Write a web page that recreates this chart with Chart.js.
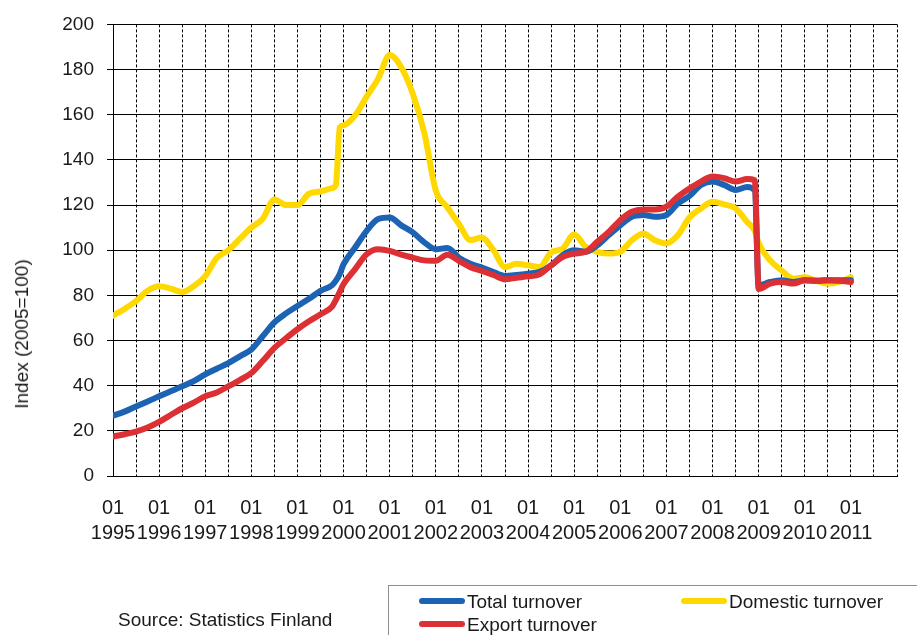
<!DOCTYPE html>
<html>
<head>
<meta charset="utf-8">
<script src="https://cdn.jsdelivr.net/npm/chart.js@4/dist/chart.umd.min.js"></script>
<style>
    body { margin: 0; background: #fff; }
    #wrap { position: relative; width: 917px; height: 635px; font-family: "Liberation Sans", Arial, sans-serif; color: #1a1a1a; }
    #chart { position: absolute; left: 0; top: 0; }
    .yTitle { position: absolute; left: 22px; top: 334px; font-size: 19px; white-space: nowrap; transform: translate(-50%, -50%) rotate(-90deg); }
    .source { position: absolute; left: 118px; top: 609px; font-size: 19px; }
    .legendBox { position: absolute; left: 388px; top: 585px; width: 560px; height: 70px; border: 1px solid #8f8f8f; }
    .legItem { position: absolute; font-size: 19px; line-height: 22px; white-space: nowrap; }
    .legItem span.sw { display: inline-block; width: 46px; height: 6px; border-radius: 3px; vertical-align: middle; margin-right: 2px; position: relative; top: -2px; }
</style>
</head>
<body>
<div id="wrap">
    <canvas id="chart" width="917" height="635"></canvas>
    <div class="yTitle">Index (2005=100)</div>
    <div class="source">Source: Statistics Finland</div>
    <div class="legendBox" id="legend"></div>
</div>
<script>
// Monthly index values (2005=100)
const dates = [
    '1995-01','1995-04','1995-07','1995-10','1996-01','1996-04','1996-07','1996-10',
    '1997-01','1997-04','1997-07','1997-10','1998-01','1998-04','1998-07','1998-10',
    '1999-01','1999-04','1999-07','1999-10','1999-11','1999-12','2000-01','2000-04',
    '2000-07','2000-10','2001-01','2001-04','2001-07','2001-10','2002-01','2002-04',
    '2002-07','2002-10','2003-01','2003-04','2003-07','2003-10','2004-01','2004-04',
    '2004-07','2004-10','2005-01','2005-04','2005-07','2005-10','2006-01','2006-04',
    '2006-07','2006-10','2007-01','2007-04','2007-07','2007-10','2008-01','2008-04',
    '2008-07','2008-10','2008-12','2009-01','2009-04','2009-07','2009-10','2010-01',
    '2010-04','2010-07','2010-10','2011-01'
];
const totalTurnover = [
    26.7, 28.5, 30.8, 33, 35.3, 37.5, 39.7, 42,
    45, 47.5, 50, 53, 56, 62, 68, 72,
    75.3, 78.5, 82, 84.5, 86.5, 89.5, 93.8, 101.2,
    108.6, 113.8, 114.5, 111, 107.9, 103.5, 100.4, 101,
    96.7, 94, 92.3, 90.3, 88.6, 89, 89.6, 90.4,
    93.3, 97.8, 100, 99.3, 102.2, 106.7, 111, 114.8,
    115.6, 114.8, 115.6, 120.7, 124, 128.9, 130.4, 128.9,
    126.7, 128, 126.5, 84.4, 85.9, 86.7, 85.9, 86.7,
    86.5, 86.7, 86.7, 86.7
];
const domesticTurnover = [
    71, 74, 77.5, 82, 84, 83, 81.5, 84,
    88.5, 96.5, 100, 105, 110, 114, 122.5, 120,
    120, 125, 126, 127.5, 129, 154.5, 155.3, 159.7,
    168, 176, 186.4, 181, 169.3, 152, 126.4, 119,
    111.6, 104.5, 105.6, 100, 92.5, 94, 93.3, 92.6,
    99, 100.7, 107, 101.5, 99.3, 98.5, 99.3, 104.4,
    107.4, 104.4, 103, 106.7, 114.5, 118.5, 121.5, 120.3,
    118.5, 112.5, 108.5, 103, 95.5, 91, 87.4, 88,
    86.5, 85.2, 86, 88
];
const exportTurnover = [
    17.5, 18.5, 19.7, 21.5, 24, 27, 30, 32.5,
    35.3, 37, 39.7, 42.5, 45.6, 51, 56.7, 61,
    65, 68.5, 71.6, 75, 78, 81.5, 85, 91.6,
    98.2, 100.4, 99.7, 98, 96.7, 95.5, 95.3, 98,
    95.3, 92.5, 90.8, 89, 87.1, 87.8, 88.4, 89.3,
    93.3, 97, 98.5, 99.3, 103.7, 108.1, 113.3, 117,
    118, 118, 119.3, 123.7, 127.3, 130.4, 132.6, 131.9,
    130.4, 131.5, 131, 82.9, 85.2, 85.9, 85.2, 86.7,
    86.5, 86.7, 86.5, 85.9
];
const years = ['1995','1996','1997','1998','1999','2000','2001','2002','2003',
    '2004','2005','2006','2007','2008','2009','2010','2011'];
const tickMonth = '01';
const seriesNames = ['Total turnover', 'Domestic turnover', 'Export turnover'];
const seriesColors = ['#1d63b3', '#ffd800', '#dc3035'];

const firstYear = parseInt(years[0]);
function monthIndex(d) {
    const p = d.split('-');
    return (parseInt(p[0]) - firstYear) * 12 + parseInt(p[1]) - 1;
}
function points(values) {
    return dates.map(function(d, i){ return {x: monthIndex(d), y: values[i]}; });
}

const font = { family: '"Liberation Sans", Arial, sans-serif', size: 19 };
const xFont = { family: '"Liberation Sans", Arial, sans-serif', size: 20, lineHeight: 1.25 };
const allSeries = [totalTurnover, domesticTurnover, exportTurnover];
const drawOrder = [1, 2, 0]; // export on top, domestic at the bottom

const datasets = allSeries.map(function(vals, i){
    return {
        label: seriesNames[i],
        data: points(vals),
        borderColor: seriesColors[i],
        backgroundColor: seriesColors[i],
        borderWidth: 6,
        pointRadius: 0,
        borderCapStyle: 'round',
        borderJoinStyle: 'round',
        cubicInterpolationMode: 'monotone',
        order: drawOrder[i]
    };
});

new Chart(document.getElementById('chart'), {
    type: 'line',
    data: { datasets: datasets },
    options: {
        responsive: false,
        animation: false,
        devicePixelRatio: 1,
        layout: { padding: { top: 24, right: 19, left: 0, bottom: 0 } },
        plugins: { legend: { display: false }, tooltip: { enabled: false } },
        scales: {
            x: {
                type: 'linear',
                min: 0,
                max: years.length * 12,
                afterFit: function(scale){ scale.height = 159; },
                grid: { color: '#000', lineWidth: 1, drawTicks: false },
                border: { display: true, color: '#000', width: 1, dash: [3, 2] },
                ticks: {
                    stepSize: 6,
                    maxTicksLimit: 60,
                    autoSkip: false,
                    maxRotation: 0,
                    padding: 20,
                    color: '#1a1a1a',
                    font: xFont,
                    callback: function(v){
                        if (v % 12 !== 0) return '';
                        const y = years[v / 12];
                        return y ? [tickMonth, y] : '';
                    }
                }
            },
            y: {
                min: 0,
                max: 200,
                afterFit: function(scale){ scale.width = 113; },
                grid: { color: '#000', lineWidth: 1, drawTicks: true, tickLength: 6 },
                border: { display: true, color: '#000', width: 1 },
                ticks: { stepSize: 20, padding: 13, color: '#1a1a1a', font: font }
            }
        }
    }
});

// legend box like the original: two columns
const legendPos = [[30, 5], [292, 5], [30, 28]];
const legend = document.getElementById('legend');
seriesNames.forEach(function(name, i){
    const item = document.createElement('div');
    item.className = 'legItem';
    item.style.left = legendPos[i][0] + 'px';
    item.style.top = legendPos[i][1] + 'px';
    item.innerHTML = '<span class="sw" style="background:' + seriesColors[i] + '"></span>' + name;
    legend.appendChild(item);
});
</script>
</body>
</html>
